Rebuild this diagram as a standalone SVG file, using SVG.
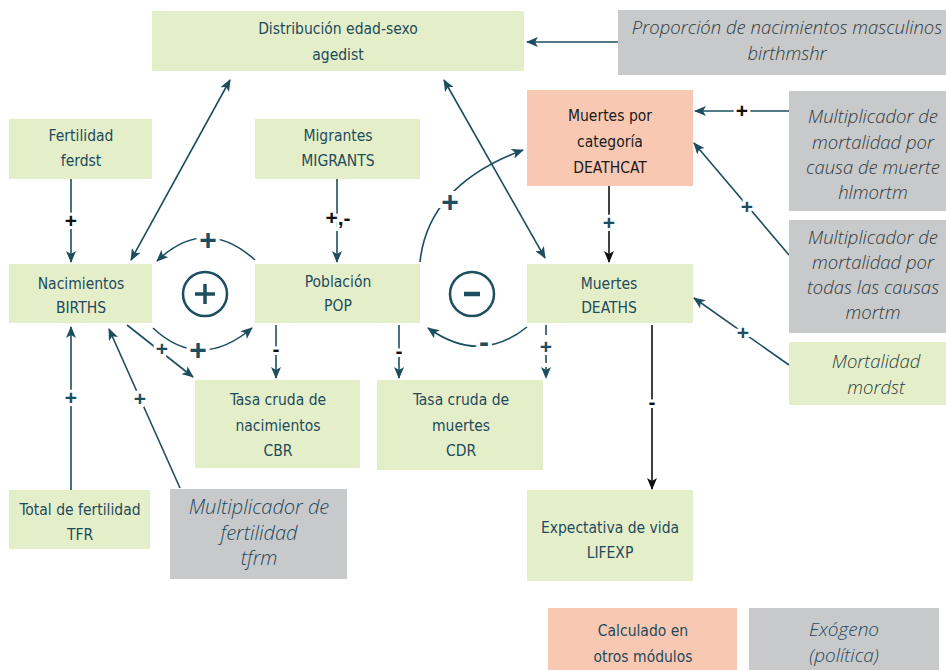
<svg xmlns="http://www.w3.org/2000/svg" width="946" height="670" viewBox="0 0 946 670">
<defs>
<marker id="a" viewBox="0 0 12 10" refX="11" refY="5" markerWidth="12" markerHeight="10" markerUnits="userSpaceOnUse" orient="auto-start-reverse"><path d="M0,0 L12,5 L0,10 L3,5 z" fill="#1D4E5F"/></marker>
<marker id="k" viewBox="0 0 12 10" refX="11" refY="5" markerWidth="12" markerHeight="10" markerUnits="userSpaceOnUse" orient="auto-start-reverse"><path d="M0,0 L12,5 L0,10 L3,5 z" fill="#111"/></marker>
<style>
.g{fill:#E4EFCA}.s{fill:#F9C8B3}.x{fill:#C8C9CB}
.t{font-family:"Liberation Sans Narrow","DejaVu Sans Condensed","Liberation Sans",sans-serif;font-stretch:condensed;font-size:15.5px;fill:#1E4A5B;text-anchor:middle}
.i{font-family:"Open Sans","Noto Sans","Liberation Sans",sans-serif;font-style:italic;font-weight:300;font-size:18.5px;fill:#2E3B40;text-anchor:middle}
.c{fill:none;stroke:#1D4E5F;stroke-width:1.6}
.b{fill:none;stroke:#111;stroke-width:1.6}
.l{font-family:"Liberation Sans",sans-serif;font-weight:bold;font-size:21px;text-anchor:middle;stroke:#fff;stroke-width:6px;paint-order:stroke}
.lk{fill:#111}.lt{fill:#1D4E5F}
.big{font-family:"Liberation Sans",sans-serif;font-weight:bold;font-size:30px;fill:#1D4E5F;text-anchor:middle;stroke:#fff;stroke-width:8px;paint-order:stroke}
</style>
</defs>

<g id="connectors">
<path class="c" d="M618,42 L527,42" marker-end="url(#a)"/>
<path class="c" d="M230,80 L131,260" marker-start="url(#a)" marker-end="url(#a)"/>
<path class="c" d="M444,80 L545,258" marker-start="url(#a)" marker-end="url(#a)"/>
<path class="c" d="M71,179 L71,262" marker-end="url(#a)"/>
<path class="c" d="M337,179 L337,262" marker-end="url(#a)"/>
<path class="c" d="M255,260 Q205,215 157,261" marker-end="url(#a)"/>
<path class="c" d="M153,328 Q200,372 252,328" marker-end="url(#a)"/>
<path class="c" d="M127,325 L193,377" marker-end="url(#a)"/>
<path class="c" d="M276,325 L276,378" marker-end="url(#a)"/>
<path class="c" d="M399,325 L399,378" marker-end="url(#a)"/>
<path class="c" d="M546,325 L546,378" stroke-dasharray="10,4" marker-end="url(#a)"/>
<path class="c" d="M420,262 Q428,185 523,150" marker-end="url(#a)"/>
<path class="c" d="M527,327 Q480,365 428,328" marker-end="url(#a)"/>
<path class="b" d="M609,186 L609,262" marker-end="url(#k)"/>
<path class="c" d="M789,111 L695,111" marker-end="url(#a)"/>
<path class="c" d="M789,255 L694,143" marker-end="url(#a)"/>
<path class="c" d="M789,365 L694,298" marker-end="url(#a)"/>
<path class="b" d="M652,325 L652,489" marker-end="url(#k)"/>
<path class="c" d="M71,490 L71,327" marker-end="url(#a)"/>
<path class="c" d="M180,488 L109,329" marker-end="url(#a)"/>

<text class="l lk" x="71" y="228">+</text>
<text class="l lk" x="338" y="225">+,-</text>
<text class="big" x="208" y="250">+</text>
<text class="big" x="198" y="360">+</text>
<text class="l lt" x="162" y="356">+</text>
<text class="l lk" x="276" y="356">-</text>
<text class="l lk" x="399" y="358">-</text>
<text class="l lt" x="546" y="354">+</text>
<text class="big" x="450" y="212">+</text>
<text class="big" x="484" y="352">-</text>
<text class="l lt" x="609" y="230">+</text>
<text class="l lk" x="742" y="118">+</text>
<text class="l lt" x="747" y="214">+</text>
<text class="l lt" x="743" y="340">+</text>
<text class="l lk" x="652" y="409">-</text>
<text class="l lt" x="71" y="405">+</text>
<text class="l lt" x="140" y="406">+</text>

<circle cx="205" cy="294" r="22" fill="none" stroke="#1D4E5F" stroke-width="2.5"/>
<path d="M195,294 H215 M205,284 V304" stroke="#1D4E5F" stroke-width="3.5"/>
<circle cx="472" cy="294" r="22" fill="none" stroke="#1D4E5F" stroke-width="2.5"/>
<path d="M464,294 H480" stroke="#1D4E5F" stroke-width="4.5"/>
</g>

<g id="agedist"><rect class="g" x="152" y="11" width="372" height="60"/><text class="t" x="338" y="34">Distribución edad-sexo</text><text class="t" x="338" y="60">agedist</text></g>
<g id="birthmshr"><rect class="x" x="618" y="10" width="328" height="65"/><text class="i" x="787" y="34">Proporción de nacimientos masculinos</text><text class="i" x="787" y="60">birthmshr</text></g>
<g id="ferdst"><rect class="g" x="9" y="119" width="143" height="60"/><text class="t" x="81" y="141">Fertilidad</text><text class="t" x="81" y="166">ferdst</text></g>
<g id="migrants"><rect class="g" x="255" y="119" width="165" height="60"/><text class="t" x="338" y="141">Migrantes</text><text class="t" x="338" y="166">MIGRANTS</text></g>
<g id="deathcat"><rect class="s" x="527" y="90" width="166" height="96"/><text class="t" x="610" y="121" style="fill:#1a1a1a">Muertes por</text><text class="t" x="610" y="147" style="fill:#1a1a1a">categoría</text><text class="t" x="610" y="173" style="fill:#1a1a1a">DEATHCAT</text></g>
<g id="hlmortm"><rect class="x" x="789" y="91" width="157" height="120"/><text class="i" x="873" y="123">Multiplicador de</text><text class="i" x="873" y="149">mortalidad por</text><text class="i" x="873" y="174">causa de muerte</text><text class="i" x="873" y="199">hlmortm</text></g>
<g id="mortm"><rect class="x" x="789" y="220" width="157" height="113"/><text class="i" x="873" y="244">Multiplicador de</text><text class="i" x="873" y="269">mortalidad por</text><text class="i" x="873" y="294">todas las causas</text><text class="i" x="873" y="319">mortm</text></g>
<g id="births"><rect class="g" x="9" y="264" width="143" height="59"/><text class="t" x="81" y="289">Nacimientos</text><text class="t" x="81" y="313">BIRTHS</text></g>
<g id="pop"><rect class="g" x="255" y="264" width="165" height="59"/><text class="t" x="338" y="287">Población</text><text class="t" x="338" y="311">POP</text></g>
<g id="deaths"><rect class="g" x="527" y="264" width="166" height="59"/><text class="t" x="609" y="289">Muertes</text><text class="t" x="609" y="313">DEATHS</text></g>
<g id="mordst"><rect class="g" x="789" y="342" width="157" height="63"/><text class="i" x="876" y="368">Mortalidad</text><text class="i" x="876" y="394">mordst</text></g>
<g id="cbr"><rect class="g" x="195" y="380" width="165" height="88"/><text class="t" x="278" y="405">Tasa cruda de</text><text class="t" x="278" y="431">nacimientos</text><text class="t" x="278" y="456">CBR</text></g>
<g id="cdr"><rect class="g" x="377" y="380" width="166" height="90"/><text class="t" x="461" y="405">Tasa cruda de</text><text class="t" x="461" y="431">muertes</text><text class="t" x="461" y="456">CDR</text></g>
<g id="tfr"><rect class="g" x="9" y="490" width="141" height="59"/><text class="t" x="80" y="515">Total de fertilidad</text><text class="t" x="80" y="540">TFR</text></g>
<g id="tfrm"><rect class="x" x="170" y="489" width="177" height="90"/><text class="i" x="259" y="514" style="font-size:20px;fill:#1E4A5B">Multiplicador de</text><text class="i" x="259" y="540" style="font-size:20px;fill:#1E4A5B">fertilidad</text><text class="i" x="259" y="565" style="font-size:20px;fill:#1E4A5B">tfrm</text></g>
<g id="lifexp"><rect class="g" x="527" y="490" width="166" height="91"/><text class="t" x="610" y="533">Expectativa de vida</text><text class="t" x="610" y="558">LIFEXP</text></g>
<g id="legend-calc"><rect class="s" x="548" y="608" width="189" height="62"/><text class="t" x="643" y="636">Calculado en</text><text class="t" x="643" y="662">otros módulos</text></g>
<g id="legend-exo"><rect class="x" x="749" y="608" width="190" height="62"/><text class="i" x="844" y="636" style="fill:#1E4A5B;font-size:19px">Exógeno</text><text class="i" x="844" y="662" style="fill:#1E4A5B;font-size:19px">(política)</text></g>
</svg>
